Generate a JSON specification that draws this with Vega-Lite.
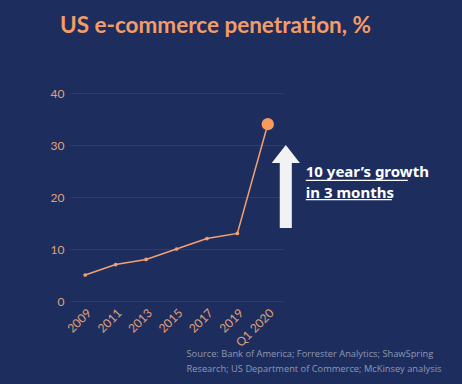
{
  "$schema": "https://vega.github.io/schema/vega-lite/v6.json",
  "autosize": {"type": "none"},
  "width": 213,
  "height": 208,
  "padding": {"left": 70, "top": 93, "right": 179, "bottom": 83},
  "background": "#1d2e5e",
  "title": {
    "text": "US e-commerce penetration, %",
    "anchor": "start",
    "frame": "group",
    "dx": -10,
    "offset": 50,
    "font": "Lato",
    "fontSize": 22.5,
    "fontWeight": "bold",
    "color": "#f49c68"
  },
  "config": {
    "view": {"stroke": null},
    "axis": {
      "labelFont": "Lato",
      "labelColor": "#e0a07c",
      "labelFontSize": 12,
      "ticks": false,
      "domain": false,
      "gridColor": "#30437a",
      "gridWidth": 0.8
    }
  },
  "datasets": {
    "series": [
      {"period": "2009", "value": 5},
      {"period": "2011", "value": 7},
      {"period": "2013", "value": 8},
      {"period": "2015", "value": 10},
      {"period": "2017", "value": 12},
      {"period": "2019", "value": 13},
      {"period": "Q1 2020", "value": 34}
    ],
    "note": [
      {"period": "Q1 2020", "value": 23.8, "text": "10 year\u2019s growth "},
      {"period": "Q1 2020", "value": 19.9, "text": "in 3 months"}
    ]
  },
  "layer": [
    {
      "data": {"name": "series"},
      "mark": {"type": "line", "color": "#f3a172", "strokeWidth": 1.5, "point": {"filled": true, "size": 14, "color": "#f3a172"}},
      "encoding": {
        "x": {
          "field": "period",
          "type": "ordinal",
          "scale": {"type": "point", "padding": 0.5},
          "sort": null,
          "axis": {
            "labelAngle": -45,
            "labelAlign": "right",
            "labelBaseline": "top",
            "labelPadding": 6,
            "grid": false,
            "title": ["Source: Bank of America; Forrester Analytics; ShawSpring", "Research; US Department of Commerce; McKinsey analysis"],
            "titleFont": "Open Sans",
            "titleFontSize": 9.3,
            "titleFontWeight": "normal",
            "titleColor": "#8f98b3",
            "titleAnchor": "start",
            "titleAlign": "left",
            "titleX": 116,
            "titleY": 48,
            "titleBaseline": "top",
            "titleLineHeight": 15
          }
        },
        "y": {
          "field": "value",
          "type": "quantitative",
          "scale": {"domain": [0, 40]},
          "axis": {"values": [0, 10, 20, 30, 40], "title": null, "labelPadding": 6, "grid": true}
        }
      }
    },
    {
      "data": {"name": "series"},
      "transform": [{"filter": "datum.period === 'Q1 2020'"}],
      "mark": {"type": "point", "filled": true, "size": 150, "color": "#f8995e", "opacity": 1},
      "encoding": {
        "x": {"field": "period", "type": "ordinal", "sort": null},
        "y": {"field": "value", "type": "quantitative"}
      }
    },
    {
      "data": {"values": [{"period": "Q1 2020", "value": 22}]},
      "mark": {
        "type": "point",
        "filled": true,
        "shape": "M0,-1 L0.34,-0.57 L0.145,-0.57 L0.145,1 L-0.145,1 L-0.145,-0.57 L-0.34,-0.57 Z",
        "size": 6889,
        "color": "#f2f2f4",
        "opacity": 1,
        "xOffset": 18
      },
      "encoding": {
        "x": {"field": "period", "type": "ordinal", "sort": null},
        "y": {"field": "value", "type": "quantitative"}
      }
    },
    {
      "data": {"name": "note"},
      "mark": {"type": "text", "align": "left", "baseline": "alphabetic", "dx": 38, "font": "Noto Sans", "fontSize": 15, "fontWeight": "bold", "color": "#ffffff"},
      "encoding": {
        "x": {"field": "period", "type": "ordinal", "sort": null},
        "y": {"field": "value", "type": "quantitative"},
        "text": {"field": "text"}
      }
    },
    {
      "data": {"values": [{"period": "Q1 2020", "value": 23.2}]},
      "mark": {"type": "rule", "color": "#ffffff", "strokeWidth": 1.3, "xOffset": 38, "x2Offset": 140},
      "encoding": {
        "x": {"field": "period", "type": "ordinal", "sort": null},
        "x2": {"field": "period"},
        "y": {"field": "value", "type": "quantitative"}
      }
    },
    {
      "data": {"values": [{"period": "Q1 2020", "value": 19.5}]},
      "mark": {"type": "rule", "color": "#ffffff", "strokeWidth": 1.3, "xOffset": 38, "x2Offset": 124},
      "encoding": {
        "x": {"field": "period", "type": "ordinal", "sort": null},
        "x2": {"field": "period"},
        "y": {"field": "value", "type": "quantitative"}
      }
    }
  ]
}
